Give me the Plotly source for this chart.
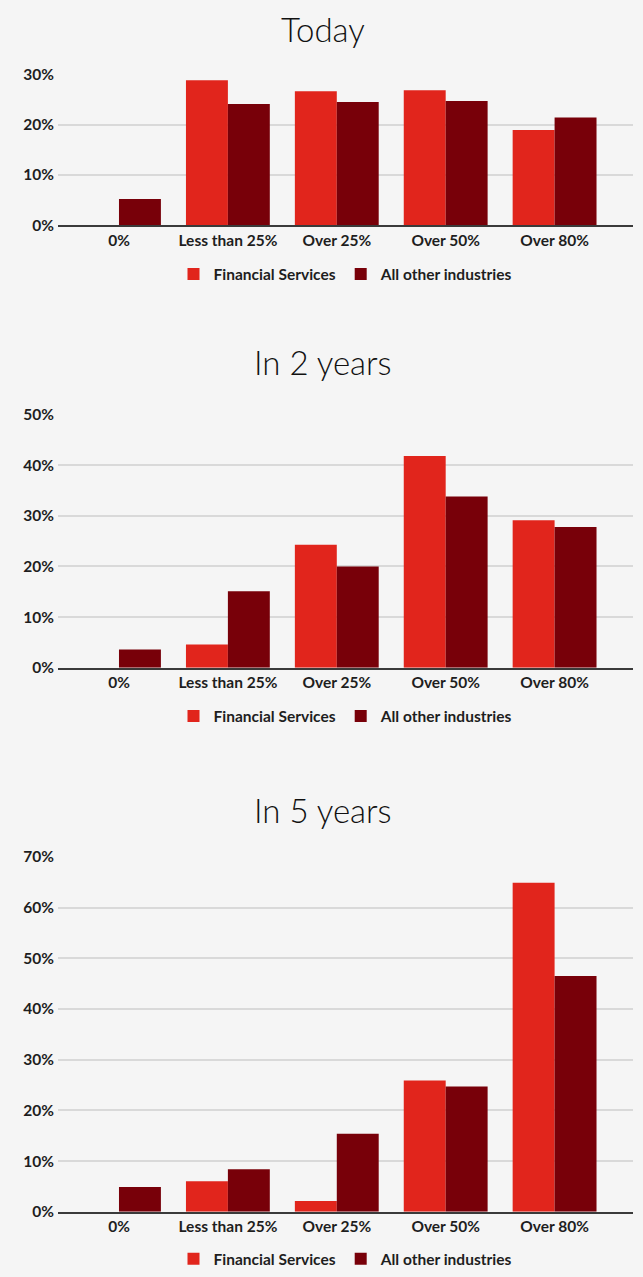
import plotly.graph_objects as go

W, H = 643, 1277

categories = ["0%", "Less than 25%", "Over 25%", "Over 50%", "Over 80%"]
series_names = ["Financial Services", "All other industries"]

today_fs = [0, 28.8, 26.6, 26.8, 18.9]
today_other = [5.2, 24.1, 24.5, 24.7, 21.4]

two_years_fs = [0, 4.6, 24.3, 41.8, 29.1]
two_years_other = [3.6, 15.1, 20.0, 33.8, 27.8]

five_years_fs = [0, 6.0, 2.1, 25.9, 64.9]
five_years_other = [4.9, 8.4, 15.4, 24.7, 46.5]

titles = ["Today", "In 2 years", "In 5 years"]
y_max = [30, 50, 70]

RED = "#E1251C"
DARK = "#780009"
BG = "#F5F5F5"
GRID = "#D9D9D9"
TEXT = "#1E1E1E"
FONT = "Lato"
TICK_SIZE = 15.5

# panel layout in page pixels (top, bottom of plot area; title and legend centre lines)
panels = [
    dict(top=66, bottom=219, title=20, legend=269),
    dict(top=410.7, bottom=667.7, title=357.5, legend=717),
    dict(top=859, bottom=1219, title=812, legend=1267),
]
x_left, x_right = 58, 633


def py(px):
    return (H - px) / H


data = [
    (today_fs, today_other),
    (two_years_fs, two_years_other),
    (five_years_fs, five_years_other),
]

fig = go.Figure()
layout = dict(
    width=W,
    height=H,
    margin=dict(l=0, r=0, t=0, b=0),
    paper_bgcolor=BG,
    plot_bgcolor=BG,
    barmode="group",
    bargap=0.23,
    bargroupgap=0,
    font=dict(family=FONT, color=TEXT),
    annotations=[],
)

for i, ((fs, other), p) in enumerate(zip(data, panels)):
    sfx = "" if i == 0 else str(i + 1)
    leg = "legend" + sfx
    for vals, name, col in ((fs, series_names[0], RED), (other, series_names[1], DARK)):
        fig.add_trace(go.Bar(
            x=categories, y=vals, name=name, marker=dict(color=col, line=dict(width=0)),
            xaxis="x" + sfx, yaxis="y" + sfx, legend=leg,
        ))
    layout["xaxis" + sfx] = dict(
        domain=[x_left / W, x_right / W],
        anchor="y" + sfx,
        range=[-0.56, 4.72],
        showgrid=False,
        showline=True, linecolor="#3A3A3A", linewidth=2,
        ticks="", fixedrange=True,
        tickfont=dict(family=FONT, size=TICK_SIZE, color=TEXT, weight="bold"),
    )
    layout["yaxis" + sfx] = dict(
        domain=[py(p["bottom"]), py(p["top"])],
        anchor="x" + sfx,
        range=[0, y_max[i] * 1.001],
        dtick=10, ticksuffix="%",
        showgrid=True, gridcolor=GRID, gridwidth=1.5,
        zeroline=False, ticks="", fixedrange=True,
        ticklabelstandoff=3,
        tickfont=dict(family=FONT, size=TICK_SIZE, color=TEXT, weight="bold"),
    )
    layout[leg] = dict(
        orientation="h",
        x=(x_left + x_right) / 2 / W, xanchor="center",
        y=py(p["legend"]), yanchor="middle",
        bgcolor="rgba(0,0,0,0)",
        font=dict(family=FONT, size=TICK_SIZE, color=TEXT, weight="bold"),
        itemwidth=30,
        traceorder="normal",
    )
    layout["annotations"].append(dict(
        text=titles[i], xref="paper", yref="paper",
        x=0.503, y=py(p["title"]), xanchor="center", yanchor="middle",
        showarrow=False,
        font=dict(family=FONT, size=33, color="#111111", weight=300),
    ))

fig.update_layout(**layout)

# let the figure fill the page edge to edge
fig.write_html(
    "out.html",
    post_script="document.body.style.margin='0';document.body.style.background='" + BG + "';",
)
